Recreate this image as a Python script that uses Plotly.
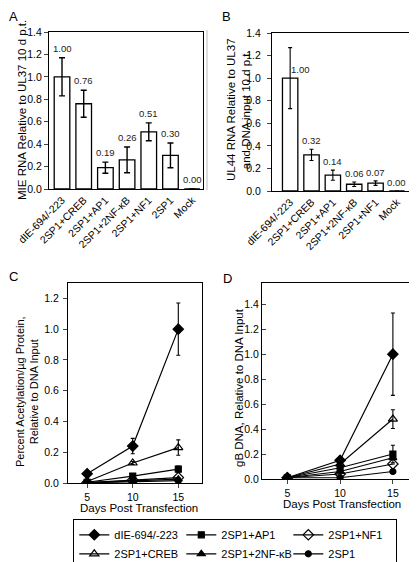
import plotly.graph_objects as go

# The page adds an 8 px body margin; the figure is sized/offset to compensate.
OFF = 8
W, H = 417 - OFF, 562 - OFF

# ---------------- data ----------------
catA = ["dIE-694/-223", "2SP1+CREB", "2SP1+AP1", "2SP1+2NF-κB", "2SP1+NF1", "2SP1", "Mock"]
valA = [1.00, 0.76, 0.19, 0.26, 0.51, 0.30, 0.00]
errA = [0.17, 0.12, 0.05, 0.115, 0.08, 0.11, 0.0]
lblA = ["1.00", "0.76", "0.19", "0.26", "0.51", "0.30", "0.00"]

catB = ["dIE-694/-223", "2SP1+CREB", "2SP1+AP1", "2SP1+2NF-κB", "2SP1+NF1", "Mock"]
valB = [1.00, 0.32, 0.14, 0.06, 0.07, 0.00]
errB = [0.27, 0.05, 0.045, 0.02, 0.02, 0.0]
lblB = ["1.00", "0.32", "0.14", "0.06", "0.07", "0.00"]

days = [5, 10, 15]
series = ["dIE-694/-223", "2SP1+AP1", "2SP1+NF1", "2SP1+CREB", "2SP1+2NF-κB", "2SP1"]
C_vals = {
    "dIE-694/-223": [0.06, 0.24, 1.00],
    "2SP1+CREB": [0.01, 0.13, 0.23],
    "2SP1+AP1": [0.005, 0.045, 0.09],
    "2SP1+NF1": [0.003, 0.02, 0.035],
    "2SP1+2NF-κB": [0.002, 0.015, 0.025],
    "2SP1": [0.001, 0.01, 0.015],
}
C_err = {
    "dIE-694/-223": [0.0, 0.05, 0.17],
    "2SP1+CREB": [0.0, 0.01, 0.05],
    "2SP1+AP1": [0.0, 0.0, 0.02],
    "2SP1+NF1": [0.0, 0.0, 0.0],
    "2SP1+2NF-κB": [0.0, 0.0, 0.0],
    "2SP1": [0.0, 0.0, 0.0],
}
D_vals = {
    "dIE-694/-223": [0.01, 0.15, 1.00],
    "2SP1+CREB": [0.01, 0.12, 0.48],
    "2SP1+AP1": [0.01, 0.09, 0.20],
    "2SP1+NF1": [0.01, 0.04, 0.12],
    "2SP1+2NF-κB": [0.01, 0.06, 0.17],
    "2SP1": [0.01, 0.01, 0.06],
}
D_err = {
    "dIE-694/-223": [0.0, 0.0, 0.33],
    "2SP1+CREB": [0.0, 0.0, 0.075],
    "2SP1+AP1": [0.0, 0.0, 0.07],
    "2SP1+NF1": [0.0, 0.0, 0.0],
    "2SP1+2NF-κB": [0.0, 0.0, 0.0],
    "2SP1": [0.0, 0.0, 0.0],
}

# ---------------- style ----------------
FONT = "Liberation Sans, Arial, sans-serif"
symbols = {
    "dIE-694/-223": ("diamond", 8, "black"),
    "2SP1+CREB": ("triangle-up-open", 8, "black"),
    "2SP1+AP1": ("square", 6, "black"),
    "2SP1+NF1": ("diamond-open", 8, "black"),
    "2SP1+2NF-κB": ("triangle-up", 7, "black"),
    "2SP1": ("circle", 6, "black"),
}


def px_x(p):
    return (p - OFF) / W


def px_y(p):
    return 1 - (p - OFF) / H


fig = go.Figure()

fig.add_trace(go.Bar(
    x=catA, y=valA, xaxis="x", yaxis="y",
    marker=dict(color="white", line=dict(color="black", width=1.3)),
    error_y=dict(type="data", array=errA, color="black", thickness=1.4, width=3),
    width=0.72, showlegend=False,
))
fig.add_trace(go.Bar(
    x=catB, y=valB, xaxis="x2", yaxis="y2",
    marker=dict(color="white", line=dict(color="black", width=1.3)),
    error_y=dict(type="data", array=errB, color="black", thickness=1.1, width=2),
    width=0.72, showlegend=False,
))

for name in series:
    sym, size, col = symbols[name]
    for xa, ya, vals, errs, show in [("x3", "y3", C_vals, C_err, True),
                                     ("x4", "y4", D_vals, D_err, False)]:
        fig.add_trace(go.Scatter(
            x=days, y=vals[name], xaxis=xa, yaxis=ya, mode="lines+markers",
            name=name, legendgroup=name,
            line=dict(color="black", width=1.2),
            marker=dict(symbol=sym, size=size, color=col, line=dict(color="black", width=1.2)),
            error_y=dict(type="data", array=errs[name], color="black", thickness=1.1, width=2),
            showlegend=show,
        ))

axis_common = dict(showline=True, linecolor="black", linewidth=1.2, mirror=True,
                   showgrid=False, zeroline=False, automargin=False,
                   tickfont=dict(family=FONT, size=10.5, color="black"))
yfmt = dict(dtick=0.2, tickformat=".1f", ticklen=4)

fig.update_layout(
    width=W, height=H, margin=dict(l=0, r=0, t=0, b=0, autoexpand=False),
    paper_bgcolor="white", plot_bgcolor="white",
    font=dict(family=FONT, color="black", size=11),
    xaxis=dict(domain=[px_x(49), px_x(203)], anchor="y", range=[-0.6, 6.5],
               tickangle=-45, ticks="", **axis_common),
    yaxis=dict(domain=[px_y(189), px_y(32)], anchor="x", range=[0, 1.4],
               ticks="outside", **yfmt, **axis_common),
    xaxis2=dict(domain=[px_x(272), px_x(414)], anchor="y2", range=[-0.85, 5.8],
                tickangle=-45, ticks="", **axis_common),
    yaxis2=dict(domain=[px_y(191), px_y(33)], anchor="x2", range=[0, 1.4],
                ticks="outside", ticklabelstandoff=4, **yfmt, **axis_common),
    xaxis3=dict(domain=[px_x(68), px_x(202)], anchor="y3", range=[2.9, 17.6],
                tickvals=days, ticks="outside", ticklen=4, **axis_common),
    yaxis3=dict(domain=[px_y(483), px_y(283)], anchor="x3", range=[0, 1.3],
                ticks="outside", ticklabelstandoff=2, **yfmt, **axis_common),
    xaxis4=dict(domain=[px_x(262), px_x(414)], anchor="y4", range=[2.6, 17.0],
                tickvals=days, ticks="outside", ticklen=4, **axis_common),
    yaxis4=dict(domain=[px_y(479), px_y(283)], anchor="x4", range=[0, 1.57],
                ticks="inside", **yfmt, **axis_common),
    legend=dict(orientation="h", x=px_x(235), xanchor="center", y=px_y(519), yanchor="top",
                bordercolor="black", borderwidth=1.3, bgcolor="white",
                font=dict(family=FONT, size=11, color="black"),
                entrywidth=62, entrywidthmode="pixels", itemwidth=30,
                tracegroupgap=0, traceorder="normal"),
)

ann = []
for c, v, e, t in zip(catA, valA, errA, lblA):
    ann.append(dict(x=c, y=v + e, xref="x", yref="y", text=t, showarrow=False,
                    xanchor="center", yanchor="bottom", yshift=2,
                    font=dict(size=9.5, family=FONT, color="#222")))
for c, v, e, t in zip(catB, valB, errB, lblB):
    if e > 0.2:
        ann.append(dict(x=c, y=v, xref="x2", yref="y2", text=t, showarrow=False,
                        yanchor="bottom", xanchor="left", xshift=-1, yshift=1,
                        font=dict(size=9.5, family=FONT, color="#222")))
    else:
        ann.append(dict(x=c, y=v + e, xref="x2", yref="y2", text=t, showarrow=False,
                        xanchor="center", yanchor="bottom", yshift=1,
                        font=dict(size=9.5, family=FONT, color="#222")))


def paper_text(text, xx, yy, size, angle=0, xanchor="center", yanchor="middle"):
    return dict(x=px_x(xx), y=px_y(yy), xref="paper", yref="paper", text=text,
                textangle=angle, showarrow=False, xanchor=xanchor, yanchor=yanchor,
                borderpad=0, font=dict(size=size, family=FONT, color="black"))


ann.append(paper_text("MIE RNA Relative to UL37 10 d p.t.", 22, 110, 11.5, -90))
ann.append(paper_text("UL44 RNA Relative to UL37<br>and DNA input 10 d p.t.", 239, 110, 11.5, -90))
ann.append(paper_text("Percent Acetylation/µg Protein,<br>Relative to DNA Input", 27, 392, 11, -90))
ann.append(paper_text("gB DNA, Relative to DNA Input", 239, 388, 11.5, -90))
ann.append(paper_text("Days Post Transfection", 139, 508, 11.5))
ann.append(paper_text("Days Post Transfection", 342, 504, 11.5))
for letter, xx, yy in [("A", 8, 8), ("B", 221, 8)]:
    ann.append(paper_text(letter, xx, yy, 13, xanchor="left", yanchor="top"))
for letter, xx, yy in [("C", 8, 276), ("D", 222, 278)]:
    ann.append(paper_text(letter, xx, yy, 13, xanchor="left"))

fig.update_layout(annotations=ann)

fig.add_shape(type="line", xref="paper", yref="paper", x0=px_x(207), x1=px_x(207),
              y0=px_y(190), y1=px_y(30), line=dict(color="#bbbbbb", width=1))

fig.write_html("out.html")
